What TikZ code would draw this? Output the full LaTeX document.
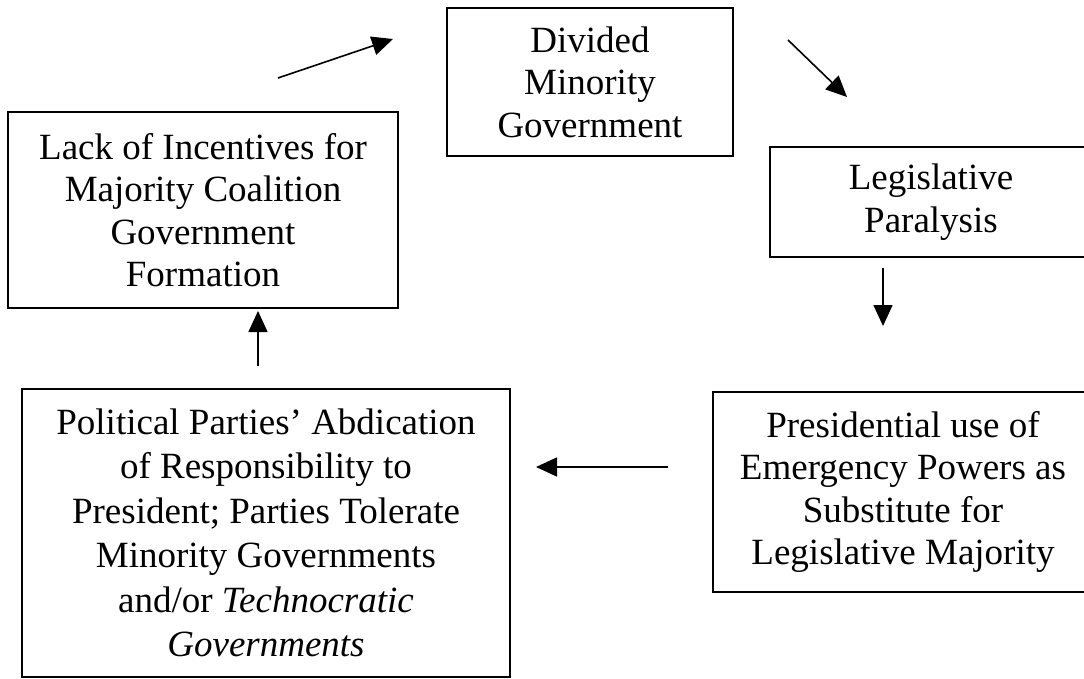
\documentclass[tikz,border=0pt]{standalone}
\usepackage{fontspec}
\setmainfont{Liberation Serif}
\usetikzlibrary{arrows.meta}
\begin{document}
\begin{tikzpicture}[x=1pt,y=-1pt,
  box/.style={draw, line width=1.6pt, inner sep=0pt, align=center,
    font=\fontsize{37}{42.5}\selectfont},
  widebox/.style={box, font=\fontsize{37}{44.5}\selectfont},
  flow/.style={-{Triangle[length=21pt,width=19pt]}, line width=1.6pt}]
\useasboundingbox (0,0) rectangle (1084,679);
\clip (0,0) rectangle (1084,679);
\fill[white] (0,0) rectangle (1084,679);

\node[box, minimum width=286pt, minimum height=148pt] (div) at (590,82)
  {Divided\\Minority\\Government};
\node[box, minimum width=322pt, minimum height=110pt] (leg) at (931,202)
  {Legislative\\Paralysis};
\node[box, minimum width=390pt, minimum height=196pt] (lack) at (203,210)
  {Lack of Incentives for\\Majority Coalition\\Government\\Formation};
\node[box, minimum width=380pt, minimum height=200pt] (pres) at (903,492)
  {Presidential use of\\Emergency Powers as\\Substitute for\\Legislative Majority};
\node[widebox, minimum width=488pt, minimum height=288pt] (pol) at (266,533)
  {Political Parties’ Abdication\\of Responsibility to\\President; Parties Tolerate\\Minority Governments\\and/or \textit{Technocratic}\\\textit{Governments}};

\coordinate (a1s) at (278,78);  \coordinate (a1e) at (393,39);
\coordinate (a2s) at (788,40);  \coordinate (a2e) at (847,97);
\coordinate (a3s) at (883,268); \coordinate (a3e) at (883,326);
\coordinate (a4s) at (668,467); \coordinate (a4e) at (536,467);
\coordinate (a5s) at (258,366); \coordinate (a5e) at (258,311);

\draw[flow] (a1s) -- (a1e);
\draw[flow] (a2s) -- (a2e);
\draw[flow] (a3s) -- (a3e);
\draw[flow] (a4s) -- (a4e);
\draw[flow] (a5s) -- (a5e);
\end{tikzpicture}
\end{document}
